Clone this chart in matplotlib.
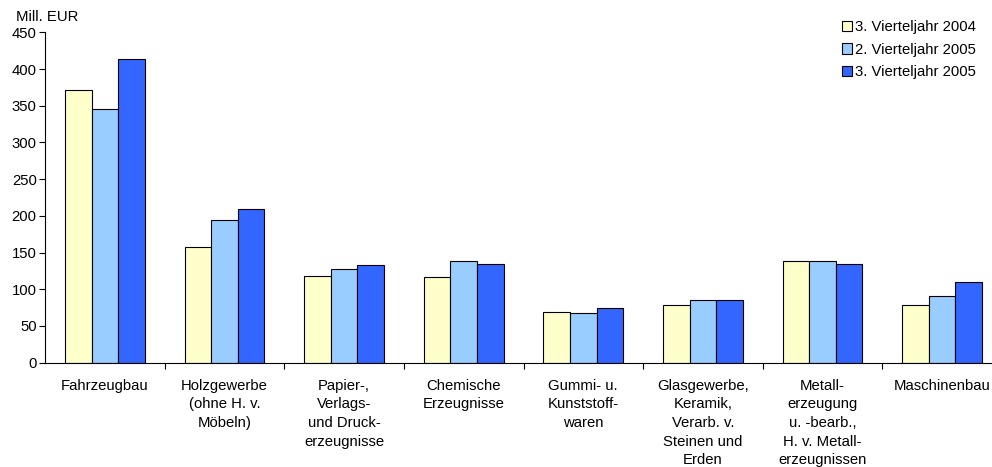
import matplotlib
matplotlib.use("Agg")
import matplotlib.pyplot as plt
import numpy as np
from matplotlib.patches import Patch

plt.rcParams['font.family'] = ['Liberation Sans', 'DejaVu Sans']

categories = [
    "Fahrzeugbau",
    "Holzgewerbe\n(ohne H. v.\nMöbeln)",
    "Papier-,\nVerlags-\nund Druck-\nerzeugnisse",
    "Chemische\nErzeugnisse",
    "Gummi- u.\nKunststoff-\nwaren",
    "Glasgewerbe,\nKeramik,\nVerarb. v.\nSteinen und\nErden",
    "Metall-\nerzeugung\nu. -bearb.,\nH. v. Metall-\nerzeugnissen",
    "Maschinenbau",
]
series_names = ["3. Vierteljahr 2004", "2. Vierteljahr 2005", "3. Vierteljahr 2005"]
q3_2004 = [371, 158, 118, 117, 69, 78, 138, 78]
q2_2005 = [345, 195, 127, 138, 68, 86, 139, 91]
q3_2005 = [414, 209, 133, 134, 75, 85, 135, 110]
colors = ["#FFFFCC", "#99CCFF", "#3366FF"]
yticks = [0, 50, 100, 150, 200, 250, 300, 350, 400, 450]

FS = 10.7
W, H = 992, 467
fig = plt.figure(figsize=(W / 100, H / 100), dpi=100)
left_px, right_px, top_px, bot_px = 45, 1002, 32.3, 362.7
ax = fig.add_axes([left_px / W, 1 - bot_px / H, (right_px - left_px) / W, (bot_px - top_px) / H])

x = np.arange(len(categories))
bw = 2 / 9
for k, (vals, c) in enumerate(zip([q3_2004, q2_2005, q3_2005], colors)):
    ax.bar(x + (k - 1) * bw, vals, width=bw, color=c, edgecolor="black", linewidth=0.8, zorder=2)

ax.set_xlim(-0.5, len(categories) - 0.5)
ax.set_ylim(0, 450)
ax.set_yticks(yticks)
ax.tick_params(axis='y', direction='out', length=4, width=0.8, labelsize=FS, pad=2, colors='black')
ax.set_xticks(x)
ax.set_xticklabels(categories, fontsize=FS, linespacing=1.42, va='top')
ax.tick_params(axis='x', which='major', length=0, pad=11.5)
ax.set_xticks(np.arange(0.5, len(categories) - 0.5, 1), minor=True)
ax.tick_params(axis='x', which='minor', direction='out', length=4, width=0.8)
for s in ['top', 'right']:
    ax.spines[s].set_visible(False)
for s in ['left', 'bottom']:
    ax.spines[s].set_linewidth(0.8)
    ax.spines[s].set_color('black')

fig.text(16 / W, 1 - 17 / H, "Mill. EUR", fontsize=FS, va='center', ha='left')

handles = [Patch(facecolor=c, edgecolor='black', linewidth=0.8) for c in colors]
fig.legend(handles, series_names, loc='upper left', bbox_to_anchor=(842 / W, 1 - 20 / H),
           frameon=False, fontsize=FS, handlelength=0.7, handleheight=0.7,
           handletextpad=0.15, labelspacing=0.58, borderaxespad=0, borderpad=0)

fig.savefig("out.png", dpi=100)
